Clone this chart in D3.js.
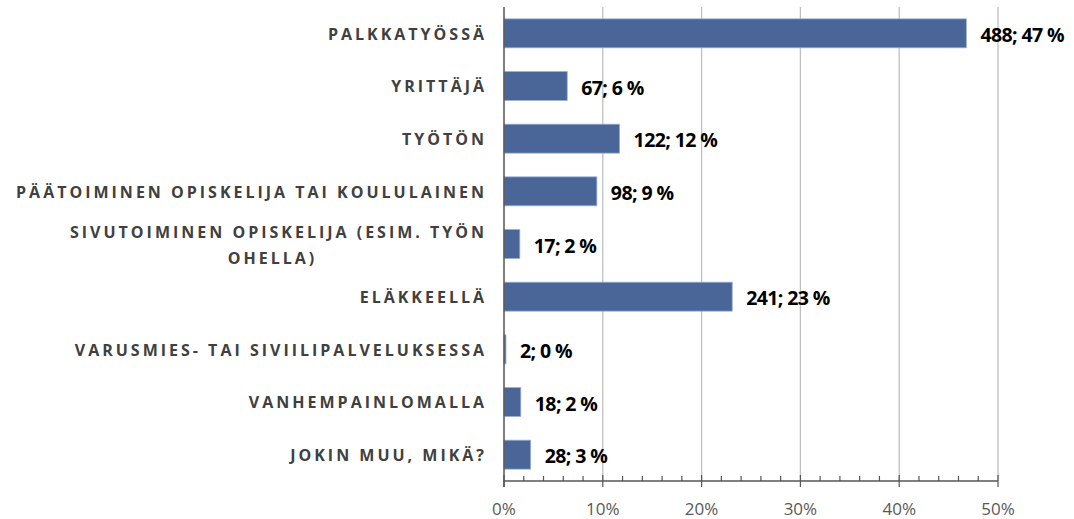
<!DOCTYPE html>
<html><head><meta charset="utf-8">
<script src="https://cdn.jsdelivr.net/npm/d3@7"></script>
<style>
body{margin:0;background:#fff;}
svg{display:block;}
</style></head>
<body>
<svg id="chart" width="1074" height="519"></svg>
<script>
const categories = ["PALKKATYÖSSÄ","YRITTÄJÄ","TYÖTÖN","PÄÄTOIMINEN OPISKELIJA TAI KOULULAINEN",["SIVUTOIMINEN OPISKELIJA (ESIM. TYÖN","OHELLA)"],"ELÄKKEELLÄ","VARUSMIES- TAI SIVIILIPALVELUKSESSA","VANHEMPAINLOMALLA","JOKIN MUU, MIKÄ?"];
const counts = [488, 67, 122, 98, 17, 241, 2, 18, 28];
const percents = [46.8, 6.4, 11.7, 9.4, 1.6, 23.1, 0.2, 1.7, 2.7];
const pctLabels = ["47 %","6 %","12 %","9 %","2 %","23 %","0 %","2 %","3 %"];
const xTicks = [0, 10, 20, 30, 40, 50];

(function () {
const svg = d3.select("#chart");
const pLeft = 504, pRight = 998, pTop = 7, pBottom = 481;
const FONT = "'Open Sans', 'Noto Sans', sans-serif";

const x = d3.scaleLinear().domain([0, 50]).range([pLeft, pRight]);
const y = d3.scaleBand().domain(d3.range(categories.length)).range([pTop, pBottom]).paddingInner(0.45).paddingOuter(0.225);

// gridlines
svg.append("g").selectAll("line").data(xTicks.slice(1)).join("line")
  .attr("x1", d => x(d)).attr("x2", d => x(d))
  .attr("y1", pTop).attr("y2", pBottom)
  .attr("stroke", "#c0c0c0").attr("stroke-width", 1.3);

// bars
svg.append("g").selectAll("rect").data(percents).join("rect")
  .attr("x", x(0)).attr("y", (d, i) => y(i))
  .attr("width", d => x(d) - x(0)).attr("height", y.bandwidth())
  .attr("fill", "#4a6698").attr("stroke", "#9db0d3").attr("stroke-width", 0.8);

// data labels
svg.append("g").selectAll("text").data(percents).join("text")
  .attr("x", d => x(d) + 14).attr("y", (d, i) => y(i) + y.bandwidth() / 2 + 2)
  .attr("dy", "0.35em")
  .attr("font-family", FONT).attr("font-weight", "bold")
  .attr("font-size", 19.5).attr("letter-spacing", "-0.6px").attr("fill", "#000")
  .text((d, i) => counts[i] + "; " + pctLabels[i]);

// x axis
const axisG = svg.append("g").attr("transform", `translate(0,${pBottom})`);
axisG.append("line").attr("x1", pLeft).attr("x2", pRight).attr("stroke", "#555").attr("stroke-width", 1.3);
const minor = d3.range(0, 51, 2).filter(v => v % 10 !== 0);
axisG.selectAll(".minor").data(minor).join("line").attr("class", "minor")
  .attr("x1", d => x(d)).attr("x2", d => x(d)).attr("y1", -5).attr("y2", 0)
  .attr("stroke", "#555").attr("stroke-width", 1.2);
axisG.selectAll(".major").data(xTicks).join("line").attr("class", "major")
  .attr("x1", d => x(d)).attr("x2", d => x(d)).attr("y1", -6).attr("y2", 6)
  .attr("stroke", "#555").attr("stroke-width", 1.2);
axisG.selectAll("text").data(xTicks).join("text")
  .attr("x", d => x(d)).attr("y", 34).attr("text-anchor", "middle")
  .attr("font-family", FONT).attr("font-size", 17).attr("fill", "#595959")
  .text(d => d + "%");

// y axis line
svg.append("line").attr("x1", pLeft).attr("x2", pLeft).attr("y1", pTop).attr("y2", pBottom + 6)
  .attr("stroke", "#555").attr("stroke-width", 1.5);

// category labels
const labG = svg.append("g");
const labX = 487;
categories.forEach((c, i) => {
  const cy = y(i) + y.bandwidth() / 2 + 0.8;
  const common = t => t.attr("font-family", FONT).attr("font-weight", "bold")
    .attr("font-size", 16).attr("letter-spacing", "3px").attr("fill", "#404040");
  if (Array.isArray(c)) {
    const t1 = common(labG.append("text")).attr("x", labX).attr("y", cy - 12.5).attr("dy", "0.35em")
      .attr("text-anchor", "end").text(c[0]);
    const bb = t1.node().getBBox();
    const t2 = common(labG.append("text")).attr("y", cy + 13.5).attr("dy", "0.35em")
      .attr("text-anchor", "start").text(c[1]);
    const bb2 = t2.node().getBBox();
    t2.attr("x", bb.x + bb.width / 2 - bb2.width / 2 - 6);
  } else {
    common(labG.append("text")).attr("x", labX).attr("y", cy).attr("dy", "0.35em")
      .attr("text-anchor", "end").text(c);
  }
});
})();
</script>
</body></html>
